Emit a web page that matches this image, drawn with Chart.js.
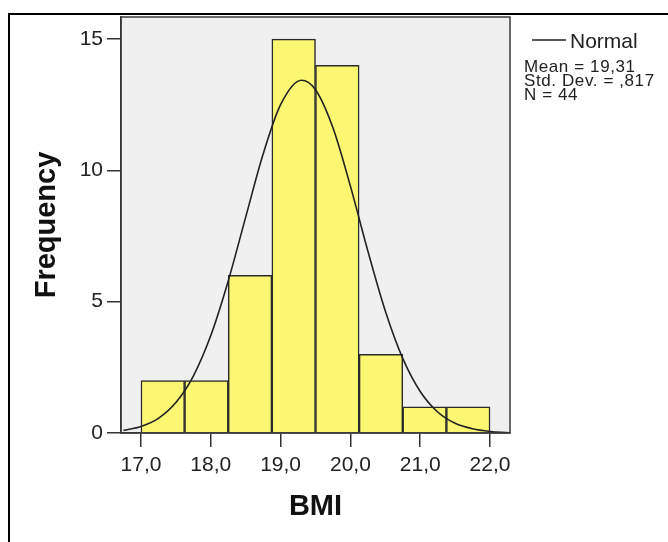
<!DOCTYPE html>
<html>
<head>
<meta charset="utf-8">
<script src="https://cdn.jsdelivr.net/npm/chart.js@4/dist/chart.umd.min.js"></script>
<style>
	body { margin: 0; background: #fff; }
	#wrap { width: 668px; height: 542px; }
</style>
</head>
<body>
<div id="wrap"><canvas id="histo" width="668" height="542"></canvas></div>
<script>
// histogram bins (BMI), width 0,625
var binCenters = [17.3125, 17.9375, 18.5625, 19.1875, 19.8125, 20.4375, 21.0625, 21.6875];
var binCounts = [2, 2, 6, 15, 14, 3, 1, 1];

// normal curve
var curveX = [16.75, 17.0, 17.25, 17.5, 17.75, 18.0, 18.25, 18.5, 18.75, 19.0, 19.3, 19.5, 19.75, 20.0, 20.25, 20.5, 20.75, 21.0, 21.25, 21.5, 21.75, 22.0, 22.25];
var curveY = [0.10, 0.25, 0.56, 1.16, 2.17, 3.71, 5.79, 8.22, 10.62, 12.50, 13.43, 13.07, 11.62, 9.40, 6.93, 4.65, 2.84, 1.58, 0.80, 0.37, 0.16, 0.06, 0.02];

var xTicks = [17, 18, 19, 20, 21, 22];
var yTicks = [0, 5, 10, 15];

var legendLines = ["Mean = 19,31", "Std. Dev. = ,817", "N = 44"];

var barData = [];
for(var i = 0; i < binCenters.length; i++) {
	barData.push({x: binCenters[i], y: binCounts[i]});
}
var lineData = [];
for(var j = 0; j < curveX.length; j++) {
	lineData.push({x: curveX[j], y: curveY[j]});
}

var fontFam = "'Liberation Sans', Arial, sans-serif";

var framePlugin = {
	id: 'frame',
	beforeDraw: function(chart) {
		var ctx = chart.ctx;
		var a = chart.chartArea;
		ctx.save();
		ctx.fillStyle = '#fff';
		ctx.fillRect(0, 0, chart.width, chart.height);
		// outer border
		ctx.strokeStyle = '#000';
		ctx.lineWidth = 2;
		ctx.strokeRect(9, 14, 700, 600);
		ctx.fillStyle = '#f0f0f0';
		ctx.fillRect(a.left, a.top, a.right - a.left, a.bottom - a.top);
		ctx.restore();
	},
	afterDraw: function(chart) {
		var ctx = chart.ctx;
		var a = chart.chartArea;
		ctx.save();
		ctx.strokeStyle = '#3a3a3a';
		ctx.lineWidth = 1.5;
		ctx.strokeRect(a.left, a.top, a.right - a.left, a.bottom - a.top);

		// legend block
		ctx.strokeStyle = '#222';
		ctx.lineWidth = 1.5;
		ctx.beginPath();
		ctx.moveTo(532, 40);
		ctx.lineTo(566, 40);
		ctx.stroke();
		ctx.fillStyle = '#222';
		ctx.textBaseline = 'alphabetic';
		ctx.textAlign = 'left';
		ctx.font = '21px ' + fontFam;
		ctx.fillText('Normal', 570, 48);
		ctx.font = '17px ' + fontFam;
		ctx.letterSpacing = '0.6px';
		var ys = [72, 86, 100];
		for(var k = 0; k < legendLines.length; k++) {
			ctx.fillText(legendLines[k], 524, ys[k]);
		}
		ctx.restore();
	}
};

var ctx = document.getElementById('histo').getContext('2d');
var chart = new Chart(ctx, {
	type: 'bar',
	data: {
		datasets: [{
			type: 'line',
			data: lineData,
			borderColor: '#222',
			borderWidth: 1.6,
			pointRadius: 0,
			cubicInterpolationMode: 'monotone',
			fill: false,
			order: 0
		}, {
			type: 'bar',
			data: barData,
			backgroundColor: '#fbf773',
			borderColor: '#2a2a2a',
			borderWidth: 1.5,
			barPercentage: 1,
			categoryPercentage: 1,
			order: 1
		}]
	},
	options: {
		responsive: false,
		animation: false,
		devicePixelRatio: 1,
		layout: { padding: { top: 17, right: 158, left: 0, bottom: 0 } },
		plugins: {
			legend: { display: false },
			tooltip: { enabled: false }
		},
		scales: {
			x: {
				type: 'linear',
				min: 16.714,
				max: 22.286,
				offset: false,
				afterFit: function(s) { s.height = 109; },
				afterBuildTicks: function(s) {
					s.ticks = xTicks.map(function(v) { return {value: v}; });
				},
				ticks: {
					color: '#222',
					padding: 6,
					maxRotation: 0,
					font: { family: fontFam, size: 21 },
					callback: function(v) { return v.toFixed(1).replace('.', ','); }
				},
				grid: { offset: false, drawOnChartArea: false, tickLength: 14, color: '#333', lineWidth: 1.5 },
				border: { display: true, color: '#333', width: 1.5 },
				title: {
					display: true,
					text: 'BMI',
					color: '#111',
					font: { family: fontFam, size: 29, weight: 'bold' },
					padding: { top: 0, bottom: 18 }
				}
			},
			y: {
				min: 0,
				max: 15.84,
				afterFit: function(s) { s.width = 121; },
				afterBuildTicks: function(s) {
					s.ticks = yTicks.map(function(v) { return {value: v}; });
				},
				ticks: {
					color: '#222',
					padding: 4,
					font: { family: fontFam, size: 21 },
					callback: function(v) { return '' + v; }
				},
				grid: { drawOnChartArea: false, tickLength: 14, color: '#333', lineWidth: 1.5 },
				border: { display: true, color: '#333', width: 1.5 },
				title: {
					display: true,
					text: 'Frequency',
					color: '#111',
					font: { family: fontFam, size: 29, weight: 'bold' },
					padding: { top: 30, bottom: 0 }
				}
			}
		}
	},
	plugins: [framePlugin]
});
</script>
</body>
</html>
